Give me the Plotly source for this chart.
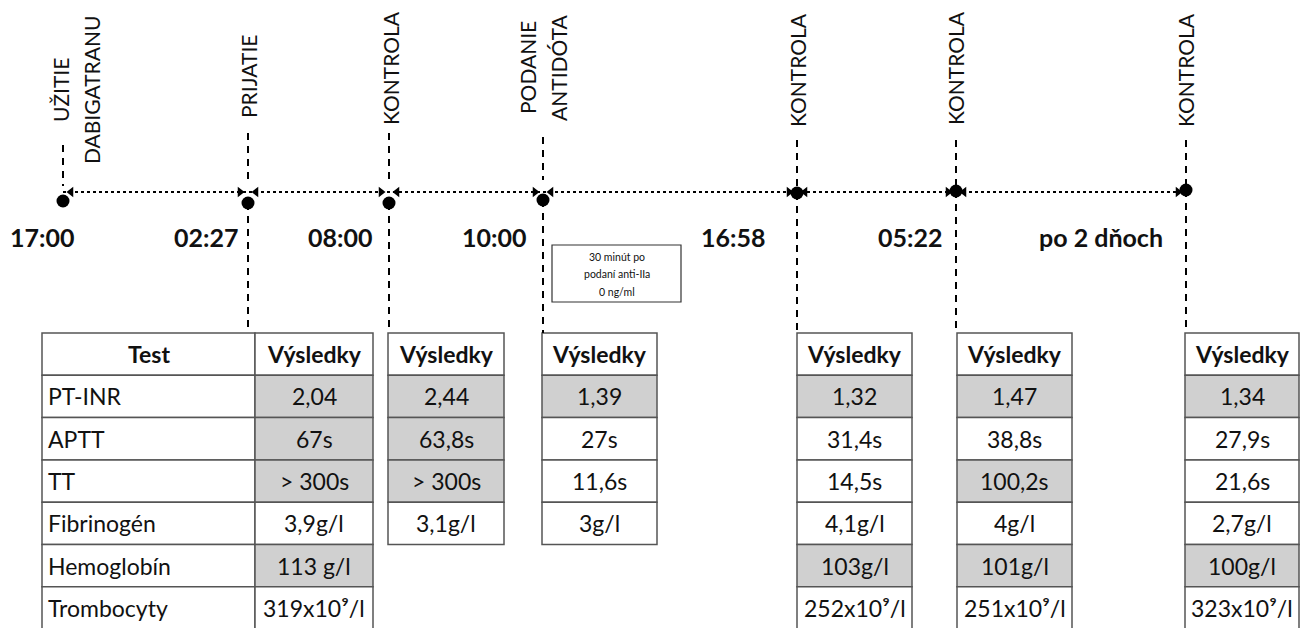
import plotly.graph_objects as go

# ---------------- data ----------------
events = [["UŽITIE", "DABIGATRANU"], ["PRIJATIE"], ["KONTROLA"], ["PODANIE", "ANTIDÓTA"],
          ["KONTROLA"], ["KONTROLA"], ["KONTROLA"]]
times = ["17:00", "02:27", "08:00", "10:00", "16:58", "05:22", "po 2 dňoch"]
tests = ["PT-INR", "APTT", "TT", "Fibrinogén", "Hemoglobín", "Trombocyty"]
header_test = "Test"
header_res = "Výsledky"
note_lines = ["30 minút po", "podaní anti-IIa", "0 ng/ml"]

res_prijatie = ["2,04", "67s", "> 300s", "3,9g/l", "113 g/l", "319x10⁹/l"]
res_kontrola1 = ["2,44", "63,8s", "> 300s", "3,1g/l"]
res_antidot = ["1,39", "27s", "11,6s", "3g/l"]
res_kontrola2 = ["1,32", "31,4s", "14,5s", "4,1g/l", "103g/l", "252x10⁹/l"]
res_kontrola3 = ["1,47", "38,8s", "100,2s", "4g/l", "101g/l", "251x10⁹/l"]
res_kontrola4 = ["1,34", "27,9s", "21,6s", "2,7g/l", "100g/l", "323x10⁹/l"]

abn_prijatie = [1, 1, 1, 0, 1, 0]
abn_kontrola1 = [1, 1, 1, 0]
abn_antidot = [1, 0, 0, 0]
abn_kontrola2 = [1, 0, 0, 0, 1, 0]
abn_kontrola3 = [1, 0, 1, 0, 1, 0]
abn_kontrola4 = [1, 0, 0, 0, 1, 0]

# ---------------- layout (pixel geometry) ----------------
W, H = 1304, 628
FONT = "Lato"
ev_x = [63, 248, 389, 543, 797, 956, 1186]
dot_y = [201, 203, 203, 200, 193, 191, 190]
line_y = 192
label_x = [60, 248, 390, 527, 797, 955, 1185]   # centre of first label line
label_gap = 31                                   # spacing between rotated lines
label_cy = [90, 77, 68, 68, 70, 68, 70]          # vertical centre of label
dash_up = [(145, 186), (133, 180), (133, 180), (137, 180), (140, 186), (140, 186), (140, 186)]
time_x = [42, 206, 340, 494, 733, 910, 1101]
time_y = 237
table_top = 333
row_h = 42.3
test_col = (42, 255)
res_tables = [
    (255, 118, res_prijatie, abn_prijatie),
    (388, 116, res_kontrola1, abn_kontrola1),
    (542, 115, res_antidot, abn_antidot),
    (797, 115, res_kontrola2, abn_kontrola2),
    (957, 115, res_kontrola3, abn_kontrola3),
    (1185, 114, res_kontrola4, abn_kontrola4),
]
note_box = (552, 245, 681, 302)
GRAY = "#d0d0d0"
BORDER = "#555555"
TXT = "#111111"
CELL_FS = 23

fig = go.Figure()
shapes = []
annotations = []

# dotted timeline
fig.add_trace(go.Scatter(x=[ev_x[0], ev_x[-1]], y=[line_y, line_y], mode="lines",
                         line=dict(color="black", width=2, dash="3px,3px"),
                         hoverinfo="skip", showlegend=False))

# arrowheads between consecutive events
ah_l_x = [ev_x[i] + 8 for i in range(len(ev_x) - 1)]
ah_r_x = [ev_x[i] - 8 for i in range(1, len(ev_x))]
fig.add_trace(go.Scatter(x=ah_l_x, y=[line_y] * len(ah_l_x), mode="markers",
                         marker=dict(symbol="triangle-left", size=9, color="black"),
                         hoverinfo="skip", showlegend=False))
fig.add_trace(go.Scatter(x=ah_r_x, y=[line_y] * len(ah_r_x), mode="markers",
                         marker=dict(symbol="triangle-right", size=9, color="black"),
                         hoverinfo="skip", showlegend=False))

# dashed vertical lines
for i, x in enumerate(ev_x):
    y0, y1 = dash_up[i]
    shapes.append(dict(type="line", x0=x, x1=x, y0=y0, y1=y1, xref="x", yref="y",
                       line=dict(color="black", width=2, dash="7px,6px")))
    if i > 0:
        shapes.append(dict(type="line", x0=x, x1=x, y0=dot_y[i], y1=table_top, xref="x", yref="y",
                           line=dict(color="black", width=2, dash="7px,6px")))

# event dots
fig.add_trace(go.Scatter(x=ev_x, y=dot_y, mode="markers",
                         marker=dict(size=13, color="black"),
                         hoverinfo="skip", showlegend=False))

# rotated event labels (one annotation per line)
for i, lines in enumerate(events):
    for k, t in enumerate(lines):
        annotations.append(dict(x=label_x[i] + k * label_gap, y=label_cy[i], xref="x", yref="y",
                                text=t, textangle=-90, showarrow=False,
                                xanchor="center", yanchor="middle",
                                font=dict(family=FONT, size=21, color=TXT)))

# time labels
for i, t in enumerate(times):
    annotations.append(dict(x=time_x[i], y=time_y, xref="x", yref="y", text="<b>%s</b>" % t,
                            showarrow=False, xanchor="center", yanchor="middle",
                            font=dict(family=FONT, size=25, color=TXT)))

# note box
bx0, by0, bx1, by1 = note_box
shapes.append(dict(type="rect", x0=bx0, x1=bx1, y0=by0, y1=by1, xref="x", yref="y",
                   line=dict(color="#333333", width=1.2), fillcolor="white"))
for k, t in enumerate(note_lines):
    annotations.append(dict(x=(bx0 + bx1) / 2, y=by0 + (k + 0.7) * (by1 - by0) / 3.3,
                            xref="x", yref="y", text=t, showarrow=False,
                            xanchor="center", yanchor="middle",
                            font=dict(family=FONT, size=10.5, color=TXT)))

def cell(x0, x1, r, fill):
    y0 = table_top + r * row_h
    shapes.append(dict(type="rect", x0=x0, x1=x1, y0=y0, y1=y0 + row_h, xref="x", yref="y",
                       line=dict(color=BORDER, width=1.5), fillcolor=fill, layer="below"))
    return y0 + row_h / 2

# test column
tx0, tx1 = test_col
yc = cell(tx0, tx1, 0, "white")
annotations.append(dict(x=(tx0 + tx1) / 2, y=yc, xref="x", yref="y", text="<b>%s</b>" % header_test,
                        showarrow=False, xanchor="center", yanchor="middle",
                        font=dict(family=FONT, size=CELL_FS, color=TXT)))
for r, t in enumerate(tests):
    yc = cell(tx0, tx1, r + 1, "white")
    annotations.append(dict(x=tx0 + 4, y=yc, xref="x", yref="y", text=t,
                            showarrow=False, xanchor="left", yanchor="middle",
                            font=dict(family=FONT, size=CELL_FS, color=TXT)))

# results tables
for (x0, w, vals, flags) in res_tables:
    yc = cell(x0, x0 + w, 0, "white")
    annotations.append(dict(x=x0 + w / 2, y=yc, xref="x", yref="y", text="<b>%s</b>" % header_res,
                            showarrow=False, xanchor="center", yanchor="middle",
                            font=dict(family=FONT, size=CELL_FS, color=TXT)))
    for r, (v, f) in enumerate(zip(vals, flags)):
        yc = cell(x0, x0 + w, r + 1, GRAY if f else "white")
        annotations.append(dict(x=x0 + w / 2, y=yc, xref="x", yref="y", text=v,
                                showarrow=False, xanchor="center", yanchor="middle",
                                font=dict(family=FONT, size=CELL_FS, color=TXT)))

fig.update_layout(
    width=W, height=H, margin=dict(l=0, r=0, t=0, b=0),
    paper_bgcolor="white", plot_bgcolor="white",
    xaxis=dict(range=[0, W], visible=False, fixedrange=True),
    yaxis=dict(range=[H, 0], visible=False, fixedrange=True),
    shapes=shapes, annotations=annotations, showlegend=False,
)
fig.write_html("out.html", config={"displayModeBar": False},
               post_script="document.body.style.margin='0';document.body.style.overflow='hidden';")
